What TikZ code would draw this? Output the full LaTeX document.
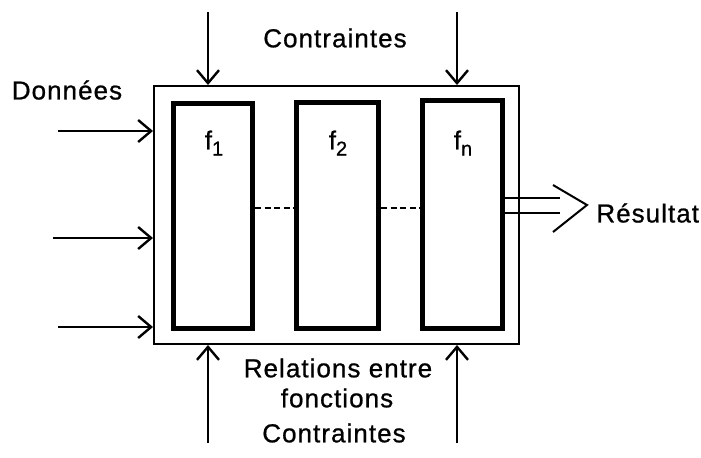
\documentclass[tikz,border=0pt]{standalone}
\usepackage{fontspec}
\setmainfont{Liberation Sans}[LetterSpace=4, FakeBold=0.8]
\usetikzlibrary{arrows.meta}
\tikzset{
  lbl/.style={font=\fontsize{13}{15}\selectfont, inner sep=0pt},
  outerbox/.style={draw, line width=1pt, inner sep=0pt, anchor=north west},
  fbox/.style={draw, line width=2.5pt, inner sep=0pt, anchor=north west},
  arr/.style={line width=1.1pt, -{Straight Barb[length=6.5pt, width=11pt, line width=1.2pt]}},
  thinline/.style={line width=1pt},
  relline/.style={line width=0.9pt, dash pattern=on 3pt off 1.8pt}
}
\newcommand{\fsub}[1]{f\raisebox{-0.45ex}{\fontsize{10}{12}\selectfont #1}}
\begin{document}
\begin{tikzpicture}[x=0.5pt, y=-0.5pt]
\useasboundingbox (0,0) rectangle (701,457);
% boxes
\node[outerbox, minimum width=182.5pt, minimum height=129pt] (outer) at (153,85) {};
\node[fbox, minimum width=39.5pt, minimum height=112.5pt] (f1) at (171,101) {};
\node[fbox, minimum width=41pt, minimum height=113pt] (f2) at (294,100) {};
\node[fbox, minimum width=40pt, minimum height=114pt] (fn) at (420,98) {};
% function labels
\node[lbl] (l1) at (214,143) {\fsub{1}};
\node[lbl] (l2) at (338,143) {\fsub{2}};
\node[lbl] (ln) at (463,143) {\fsub{n}};
% dashed relations
\draw[relline] (f1.east |- 0,208) -- (f2.west |- 0,208);
\draw[relline] (f2.east |- 0,208) -- (fn.west |- 0,208);
% top constraints
\coordinate (t1) at (208,12);
\coordinate (t2) at (457,12);
\draw[arr] (t1) -- (t1 |- outer.north);
\draw[arr] (t2) -- (t2 |- outer.north);
% bottom constraints
\coordinate (b1) at (208,443);
\coordinate (b2) at (457,443);
\draw[arr] (b1) -- (b1 |- outer.south);
\draw[arr] (b2) -- (b2 |- outer.south);
% data inputs
\coordinate (d1) at (58,131);
\coordinate (d2) at (53,238);
\coordinate (d3) at (58,327);
\draw[arr] (d1) -- (d1 -| outer.west);
\draw[arr] (d2) -- (d2 -| outer.west);
\draw[arr] (d3) -- (d3 -| outer.west);
% result
\coordinate (r1) at (560,198);
\coordinate (r2) at (560,213);
\draw[thinline] (fn.east |- r1) -- (r1);
\draw[thinline] (fn.east |- r2) -- (r2);
\coordinate (c1) at (553,185);
\coordinate (c2) at (587,205);
\coordinate (c3) at (553,232);
\draw[thinline] (c1) -- (c2) -- (c3);
% labels
\node[lbl] (ctop) at (335,38) {Contraintes};
\node[lbl] (don) at (67,90) {Données};
\node[lbl, anchor=west] (res) at (596,213) {Résultat};
\node[lbl] (rel1) at (338,368) {Relations entre};
\node[lbl] (rel2) at (337,398) {fonctions};
\node[lbl] (cbot) at (334,433) {Contraintes};
\end{tikzpicture}
\end{document}
